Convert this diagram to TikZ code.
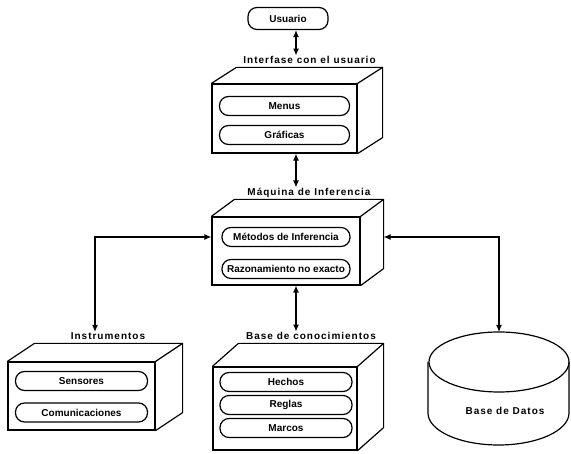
\documentclass[tikz,border=0pt]{standalone}
\usepackage{fontspec}
\setmainfont{Liberation Sans}
\newfontfamily\rotulo[LetterSpace=10]{Liberation Sans}
\usetikzlibrary{arrows.meta}

\tikzset{
  trazo/.style={line width=1.2pt},
  caja/.style={draw, trazo, inner sep=0pt},
  capsula/.style={draw, trazo, rounded corners=9pt, minimum width=130, minimum height=19, inner sep=1pt, font=\bfseries},
  titulo/.style={anchor=base, inner sep=1pt, font=\rotulo\bfseries},
  flecha/.style={trazo, {Latex[length=7pt,width=6pt]}-{Latex[length=7pt,width=6pt]}}
}

% cara de arriba y cara lateral de una caja
\newcommand{\cajafondo}[3]{%
  \coordinate (#1-fondo) at ([shift={(#2,-#3)}]#1.south east);
  \draw[trazo, line join=round] (#1.north west) -- ++(#2,-#3) -| (#1-fondo) -- (#1.south east);
  \draw[trazo] (#1.north east) -- ++(#2,-#3);
}

\begin{document}
\begin{tikzpicture}[x=1pt, y=-1pt]
  \useasboundingbox (0,0) rectangle (571,454);

  \node[capsula, minimum width=80, minimum height=22] (usuario) at (288,18.5) {Usuario};

  % interfase
  \node[caja, minimum width=145, minimum height=69] (interfase) at (284.5,118.5) {};
  \cajafondo{interfase}{25}{16}
  \node[titulo] (tInterfase) at (309.5,64) {Interfase con el usuario};
  \node[capsula] (menus) at (284.5,106) {Menus};
  \node[capsula] (graficas) at (284.5,135) {Gráficas};

  % maquina de inferencia
  \node[caja, minimum width=148, minimum height=68] (maquina) at (286,251) {};
  \cajafondo{maquina}{23}{17}
  \node[titulo] (tMaquina) at (309,196) {Máquina de Inferencia};
  \node[capsula, minimum width=128] (metodos) at (286,237) {Métodos de Inferencia};
  \node[capsula, minimum width=128] (razonamiento) at (286,269) {Razonamiento no exacto};

  % instrumentos
  \node[caja, minimum width=147, minimum height=68] (instrumentos) at (81.5,396) {};
  \cajafondo{instrumentos}{27}{18}
  \node[titulo] (tInstrumentos) at (108,340) {Instrumentos};
  \node[capsula, minimum width=132] (sensores) at (81.5,381) {Sensores};
  \node[capsula, minimum width=132] (comunicaciones) at (81.5,412.5) {Comunicaciones};

  % base de conocimientos
  \node[caja, minimum width=144, minimum height=83] (base) at (285,408.5) {};
  \cajafondo{base}{26}{23}
  \node[titulo] (tBase) at (311,340) {Base de conocimientos};
  \node[capsula, minimum width=132] (hechos) at (286,382) {Hechos};
  \node[capsula, minimum width=132] (reglas) at (286,405) {Reglas};
  \node[capsula, minimum width=132] (marcos) at (286,428) {Marcos};

  % base de datos
  \draw[trazo] (499,362) ellipse [x radius=70, y radius=30];
  \draw[trazo] (428,362) -- (428,413) arc[start angle=180, end angle=0, x radius=70.5, y radius=32] -- (569,362);
  \coordinate (bdTop) at (499,332);
  \node[font=\rotulo\bfseries] (datos) at (505,411) {Base de Datos};

  % flechas
  \coordinate (eje) at (296,0);
  \coordinate (izq) at (95,0);
  \draw[flecha] (usuario.south -| eje) -- (tInterfase.north -| eje);
  \draw[flecha] (interfase.south -| eje) -- (tMaquina.north -| eje);
  \draw[flecha] (maquina.south -| eje) -- (tBase.north -| eje);
  \draw[flecha] (metodos -| maquina.west) -| (tInstrumentos.north -| izq);
  \draw[flecha] (metodos -| maquina-fondo) -| (bdTop);
\end{tikzpicture}
\end{document}
